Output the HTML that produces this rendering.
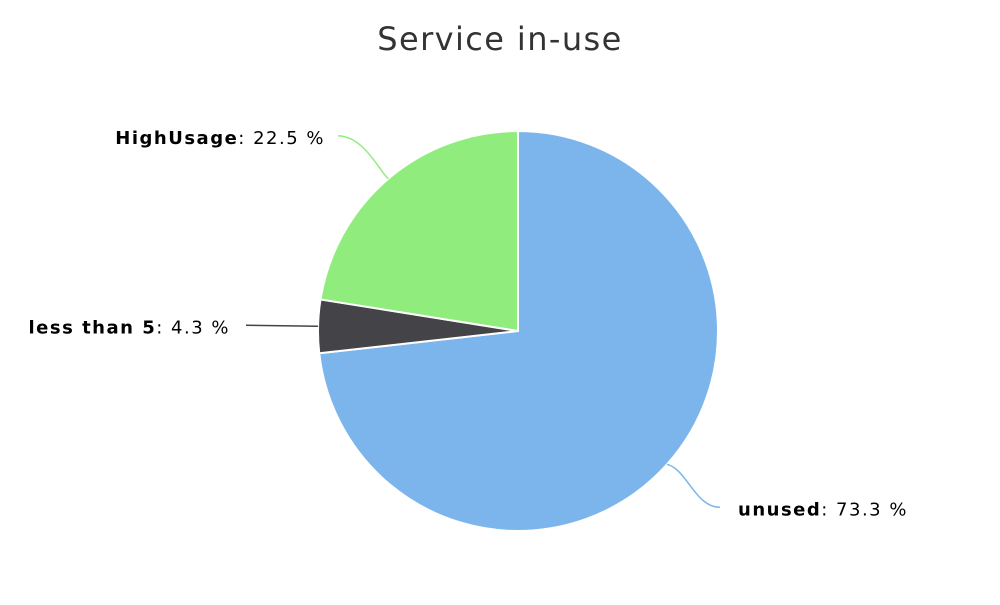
<!DOCTYPE html>
<html><head><meta charset="utf-8"><style>
body{margin:0;background:#fff;}
text{font-family:"DejaVu Sans","Liberation Sans",sans-serif;}
</style></head><body>
<svg width="1000" height="600" xmlns="http://www.w3.org/2000/svg">
<rect width="1000" height="600" fill="#fff"/>
<text x="500" y="50" text-anchor="middle" font-size="32" letter-spacing="1.4" fill="#333">Service in-use</text>
<g id="slices"></g>
<g id="labels"></g>
</svg>
<script>
const categories=["unused","less than 5","HighUsage"];
const values=[73.3,4.3,22.5];
const colors=["#7cb5ec","#434348","#90ed7d"];
const cx=518,cy=331,r=200;
const NS="http://www.w3.org/2000/svg";
const total=values.reduce((a,b)=>a+b,0);
const sg=document.getElementById('slices'),lg=document.getElementById('labels');
function pt(a,rr){return [cx+rr*Math.sin(a),cy-rr*Math.cos(a)];}
let a0=0;
values.forEach((v,i)=>{
  const a1=a0+v/total*2*Math.PI;
  const p0=pt(a0,r),p1=pt(a1,r);
  const large=(a1-a0)>Math.PI?1:0;
  const p=document.createElementNS(NS,'path');
  p.setAttribute('d',`M${cx},${cy} L${p0[0]},${p0[1]} A${r},${r} 0 ${large} 1 ${p1[0]},${p1[1]} Z`);
  p.setAttribute('fill',colors[i]);p.setAttribute('stroke','#fff');p.setAttribute('stroke-width','2');
  
  
  sg.appendChild(p);
  const m=(a0+a1)/2;
  const e=pt(m,r);
  const right=Math.sin(m)>=0;
  const steep=Math.abs(Math.cos(m))>0.5;
  const ly=steep?e[1]-Math.sign(Math.cos(m))*43:e[1]-1;
  const lx=right?cx+r+2:(steep?cx-r+20:cx-r-72);
  const c=document.createElementNS(NS,'path');
  c.setAttribute('d',steep?`M${e[0]},${e[1]} C${e[0]+(right?20:-10)},${e[1]+(right?5:-10)} ${lx+(right?-25:25)},${ly} ${lx},${ly}`:`M${e[0]},${e[1]} L${lx},${ly}`);
  c.setAttribute('fill','none');c.setAttribute('stroke',colors[i]);c.setAttribute('stroke-width','1.5');
  
  
  lg.appendChild(c);
  const t=document.createElementNS(NS,'text');
  t.setAttribute('x',right?lx+18:lx-(steep?13:16));t.setAttribute('y',ly+8);
  t.setAttribute('text-anchor',right?'start':'end');t.setAttribute('font-size','18');t.setAttribute('fill','#000');
  t.setAttribute('letter-spacing','1.5');
  
  
  const b=document.createElementNS(NS,'tspan');b.setAttribute('font-weight','bold');b.textContent=categories[i];
  t.appendChild(b);t.appendChild(document.createTextNode(': '+v.toFixed(1)+' %'));
  lg.appendChild(t);
  a0=a1;
});
</script>
</body></html>
